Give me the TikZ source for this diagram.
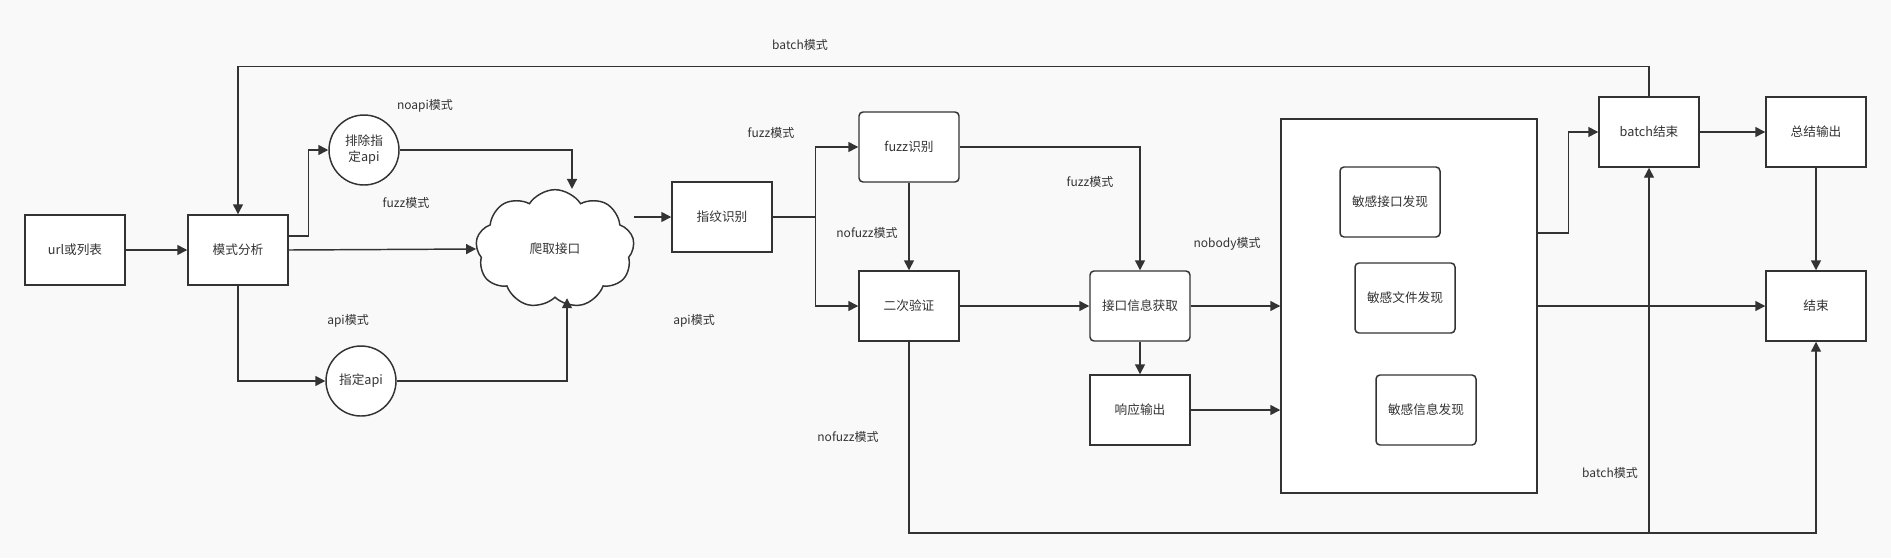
\documentclass[tikz,border=0pt]{standalone}
\usepackage{fontspec}
\setmainfont{Noto Sans CJK SC}
\usetikzlibrary{arrows.meta, shapes.symbols}
\definecolor{linec}{HTML}{333333}
\definecolor{bgc}{HTML}{F9F9F9}

\begin{document}
\begin{tikzpicture}[x=0.75pt, y=-0.75pt,
  every node/.style={font=\fontsize{9.5}{12}\selectfont, text=linec},
  box/.style={draw=linec, fill=white, line width=1.1pt, minimum width=75pt, minimum height=52.5pt, inner sep=1pt},
  rbox/.style={box, rounded corners=3pt},
  circ/.style={draw=linec, fill=white, line width=1.1pt, circle, minimum size=52.5pt, inner sep=0pt, align=center},
  line/.style={draw=linec, line width=1.1pt},
  arr/.style={line, -{Triangle[length=7.5pt, width=7.5pt]}},
  lbl/.style={font=\fontsize{9}{11}\selectfont}]
\fill[bgc] (0,0) rectangle (1891,558);

% nodes
\node[box] (url) at (75,250) {url或列表};
\node[box] (mode) at (238,250) {模式分析};
\node[circ] (noapi) at (364,150) {排除指\\定api};
\node[circ] (api) at (361,381) {指定api};
\node[cloud, draw=linec, fill=white, line width=1.1pt, cloud puffs=9, cloud puff arc=115, aspect=1.3,
  minimum width=119pt, minimum height=89pt] (crawl) at (555,249) {爬取接口};
\node[box] (fp) at (722,217) {指纹识别};
\node[rbox] (fuzz) at (909,147) {fuzz识别};
\node[box] (verify) at (909,306) {二次验证};
\node[rbox] (info) at (1140,306) {接口信息获取};
\node[box] (resp) at (1140,410) {响应输出};
\node[box, minimum width=192pt, minimum height=280.5pt] (sens) at (1409,306) {};
\node[rbox] (sapi) at (1390,202) {敏感接口发现};
\node[rbox] (sfile) at (1405,298) {敏感文件发现};
\node[rbox] (sinfo) at (1426,410) {敏感信息发现};
\node[box] (batchend) at (1649,132) {batch结束};
\node[box] (sum) at (1816,132) {总结输出};
\node[box] (end) at (1816,306) {结束};
\coordinate (low) at (1649,533);

% connectors
\draw[arr] (url) -- (mode);
\draw[arr] ([yshift=10.5pt]mode.east) -- ++(20,0) |- (noapi.west);
\draw[arr] (mode.east) -- (crawl.west);
\draw[arr] (mode.south) |- (api.west);
\draw[arr] (noapi.east) -| ([xshift=12.75pt]crawl.north);
\draw[arr] (api.east) -| ([xshift=9pt]crawl.south);
\draw[arr] (fp.west -| crawl.east) -- (fp.west);
\draw[arr] (fp.east) -- ++(43,0) |- (fuzz.west);
\draw[arr] (fp.east) -- ++(43,0) |- (verify.west);
\draw[arr] (fuzz) -- (verify);
\draw[arr] (fuzz.east) -| (info.north);
\draw[arr] (verify) -- (info);
\draw[arr] (info) -- (info.east -| sens.west);
\draw[arr] (info) -- (resp);
\draw[arr] (resp) -- (resp.east -| sens.west);
\draw[arr] ([yshift=54.75pt]sens.east) -- ++(31,0) |- (batchend.west);
\draw[arr] (sens.east |- end.west) -- (end.west);
\draw[arr] (batchend) -- (sum);
\draw[arr] (sum) -- (end);
\draw[arr] (batchend.north) -- ++(0,-30) -| (mode.north);
\draw[arr] (verify.south) |- (low) -| (end.south);
\draw[arr] (low) -- (batchend.south);

% labels
\node[lbl] (l1) at (425,106) {noapi模式};
\node[lbl] (l2) at (406,203) {fuzz模式};
\node[lbl] (l3) at (348,321) {api模式};
\node[lbl] (l4) at (771,133) {fuzz模式};
\node[lbl] (l5) at (694,321) {api模式};
\node[lbl] (l6) at (867,233) {nofuzz模式};
\node[lbl] (l7) at (848,437) {nofuzz模式};
\node[lbl] (l8) at (1090,182) {fuzz模式};
\node[lbl] (l9) at (1227,244) {nobody模式};
\node[lbl] (l10) at (800,45) {batch模式};
\node[lbl] (l11) at (1610,473) {batch模式};
\end{tikzpicture}
\end{document}
